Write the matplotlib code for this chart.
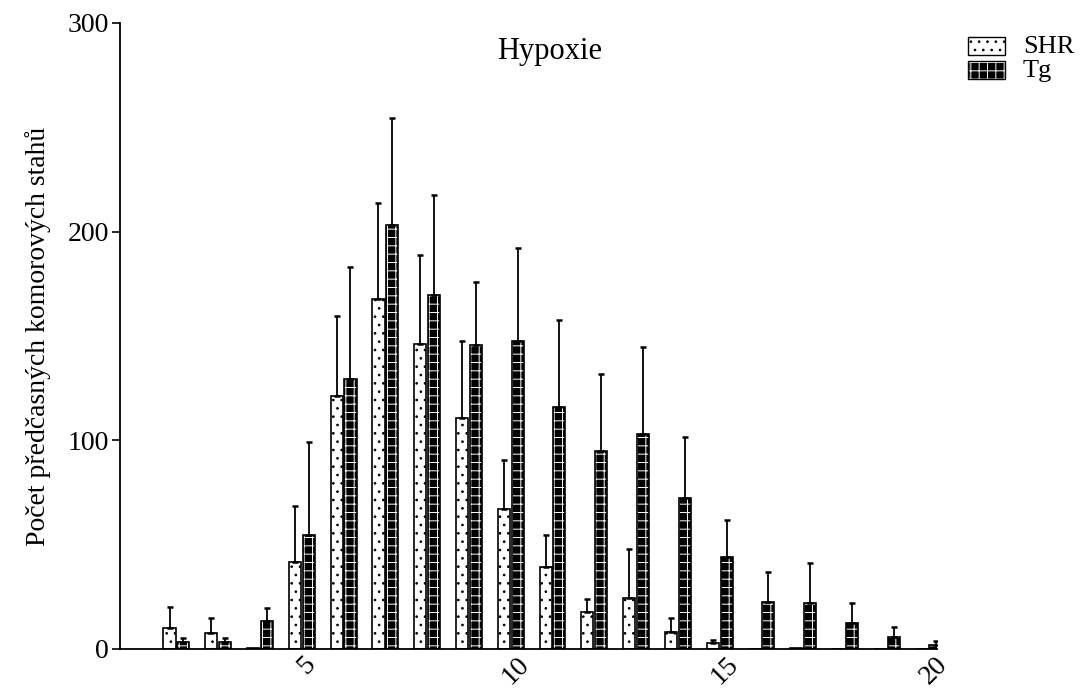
import numpy as np
import matplotlib
matplotlib.use("Agg")
import matplotlib.pyplot as plt
import matplotlib.transforms as mtransforms
from matplotlib.patches import Rectangle

plt.rcParams['font.family'] = ['Liberation Serif', 'DejaVu Serif']
plt.rcParams['hatch.linewidth'] = 0.7

# Data
categories = np.arange(2, 21)
shr_mean = [10.2, 7.5, 0.5, 41.7, 121.2, 167.8, 146.3, 110.8, 67.2, 39.4,
            17.6, 24.6, 8.0, 2.9, 0, 0.3, 0, 0, 0]
shr_err = [10.1, 7.2, 0, 26.7, 38.4, 46.1, 42.5, 36.8, 23.4, 15.1,
           6.4, 23.3, 6.7, 1.4, 0, 0, 0, 0, 0]
tg_mean = [3.2, 3.2, 13.5, 54.8, 129.4, 203.3, 169.8, 145.5, 147.4, 115.8,
           95.0, 103.0, 72.3, 44.2, 22.7, 22.0, 12.6, 5.7, 2.0]
tg_err = [2.1, 2.2, 6.1, 44.4, 53.8, 51.1, 47.9, 30.5, 44.9, 41.8,
          36.8, 41.7, 29.4, 17.6, 14.2, 19.2, 9.6, 4.8, 1.7]
xtick_vals = [5, 10, 15, 20]
series_names = ['SHR', 'Tg']

fig = plt.figure(figsize=(10.88, 6.9), dpi=100)
ax = fig.add_axes([120/1088, 1 - 649/690, (937-120)/1088, (649-23)/690])

w = 0.29
off = 0.165
x_shr = categories - off
x_tg = categories + off

# SHR: white with dots
ax.bar(x_shr, shr_mean, w, color='white', edgecolor='black', hatch='..', linewidth=1.2)
# Tg: black with white pattern, then black outline on top
ax.bar(x_tg, tg_mean, w, color='black', edgecolor='white', hatch='++', linewidth=0)
ax.bar(x_tg, tg_mean, w, color='none', edgecolor='black', linewidth=1.2)

# upward error bars only
for xs, m, e in [(x_shr, shr_mean, shr_err), (x_tg, tg_mean, tg_err)]:
    m = np.array(m)
    e = np.array(e)
    keep = e > 0
    ax.errorbar(xs[keep], m[keep], yerr=[np.zeros(keep.sum()), e[keep]],
                fmt='none', ecolor='black', elinewidth=1.3, capsize=2.5, capthick=1.8)

ax.set_xlim(0.65, 20.2)
ax.set_ylim(0, 300)
ax.set_yticks([0, 100, 200, 300])
ax.set_xticks(xtick_vals)
ax.set_xticklabels([str(v) for v in xtick_vals], rotation=45, ha='center', va='top')
ax.tick_params(axis='x', length=0, labelsize=20, pad=2)
ax.tick_params(axis='y', length=6, width=1.2, labelsize=20, pad=2)
shift = mtransforms.ScaledTranslation(5/100, 0, fig.dpi_scale_trans)
for lab in ax.get_xticklabels():
    lab.set_transform(lab.get_transform() + shift)
for s in ['top', 'right']:
    ax.spines[s].set_visible(False)
for s in ['left', 'bottom']:
    ax.spines[s].set_linewidth(1.3)

ax.set_ylabel('Počet předčasných komorových stahů', fontsize=20, labelpad=12)
ax.text(0.526, 0.954, 'Hypoxie', transform=ax.transAxes, ha='center', va='center', fontsize=22)

# legend drawn by hand in figure pixels
W, H = 1088, 690
legend_styles = [dict(facecolor='white', edgecolor='black', hatch='..'),
                 dict(facecolor='black', edgecolor='white', hatch='++')]
for i, (name, st) in enumerate(zip(series_names, legend_styles)):
    top = 37 + i * 24
    fig.patches.append(Rectangle((968/W, 1 - (top + 18)/H), 37/W, 18/H,
                                 transform=fig.transFigure, linewidth=1.0, **st))
    if i == 1:
        fig.patches.append(Rectangle((968/W, 1 - (top + 18)/H), 37/W, 18/H,
                                     transform=fig.transFigure, facecolor='none',
                                     edgecolor='black', linewidth=1.0))
    fig.text(1023/W, 1 - (top + 10)/H, name, ha='left', va='center', fontsize=19)

fig.savefig('out.png', dpi=100)
